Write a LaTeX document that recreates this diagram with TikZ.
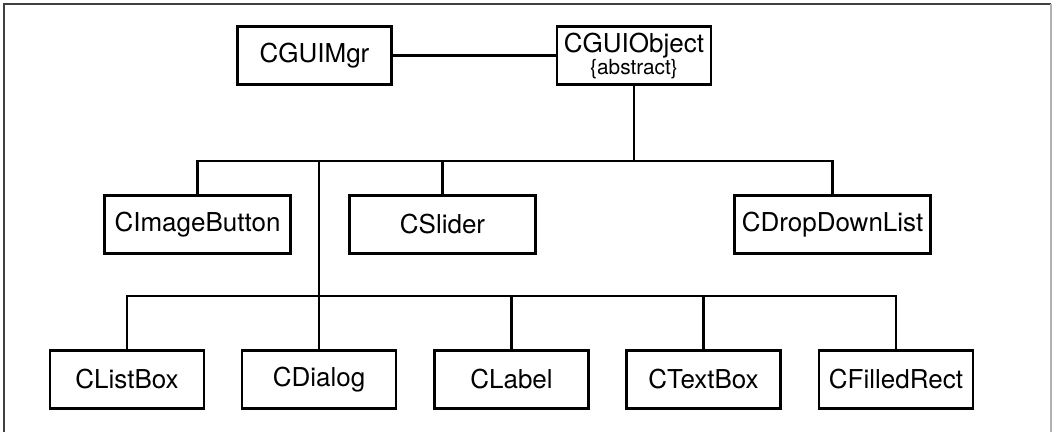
\documentclass[tikz,border=0pt]{standalone}
\usepackage{fontspec}
\setmainfont{TeX Gyre Heros}
\usetikzlibrary{positioning, calc}

\begin{document}
\begin{tikzpicture}[
    x=0.5pt, y=-0.5pt,
    cls/.style={rectangle, draw, line width=1.3pt, minimum width=77pt, minimum height=29pt, inner sep=2pt, font=\fontsize{13}{14}\selectfont},
    widecls/.style={cls, minimum width=93pt},
    tree/.style={line width=1.3pt},
    frame/.style={line width=0.6pt, draw=black!75},
]
\useasboundingbox (0,0) rectangle (1052,432);

%% FRAME
    \draw[frame] (4,432) -- (4,4) -- (1051,4);
    \draw[frame, draw=black!30] (1051,4) -- (1051,432);

%% NODES
    % top row
    \node[cls] (guimgr) at (314.5,55.5) {CGUIMgr};
    \node[cls, align=center] (guiobject) at (634,55.5) {CGUIObject\\[-3pt]{\fontsize{10.4}{12}\selectfont\{abstract\}}};

    % middle row
    \node[widecls] (imagebutton) at (197.5,224.5) {CImageButton};
    \node[widecls] (slider) at (442.5,224.5) {CSlider};
    \node[widecls, minimum width=98pt] (dropdownlist) at (832.5,224.5) {CDropDownList};

    % bottom row
    \node[cls] (listbox) at (127,379.5) {CListBox};
    \node[cls] (dialog) at (319,379.5) {CDialog};
    \node[cls] (label) at (511.5,379.5) {CLabel};
    \node[cls] (textbox) at (703.5,379.5) {CTextBox};
    \node[cls] (filledrect) at (896,379.5) {CFilledRect};

    % bus lines
    \coordinate (upperbus) at (634,161);
    \coordinate (lowerbus) at (319,296);

%% CONNECTIONS
    % manager -> object
    \draw[tree] (guimgr.east) -- (guiobject.west);

    % object -> middle row
    \draw[tree] (guiobject.south) -- (upperbus);
    \draw[tree] (imagebutton.north) |- (dropdownlist.north |- upperbus) -- (dropdownlist.north);
    \draw[tree] (slider.north) -- (slider.north |- upperbus);

    % object -> bottom row
    \draw[tree] (dialog.north) -- (dialog.north |- upperbus);
    \draw[tree] (listbox.north) |- (filledrect.north |- lowerbus) -- (filledrect.north);
    \draw[tree] (label.north) -- (label.north |- lowerbus);
    \draw[tree] (textbox.north) -- (textbox.north |- lowerbus);

\end{tikzpicture}
\end{document}
